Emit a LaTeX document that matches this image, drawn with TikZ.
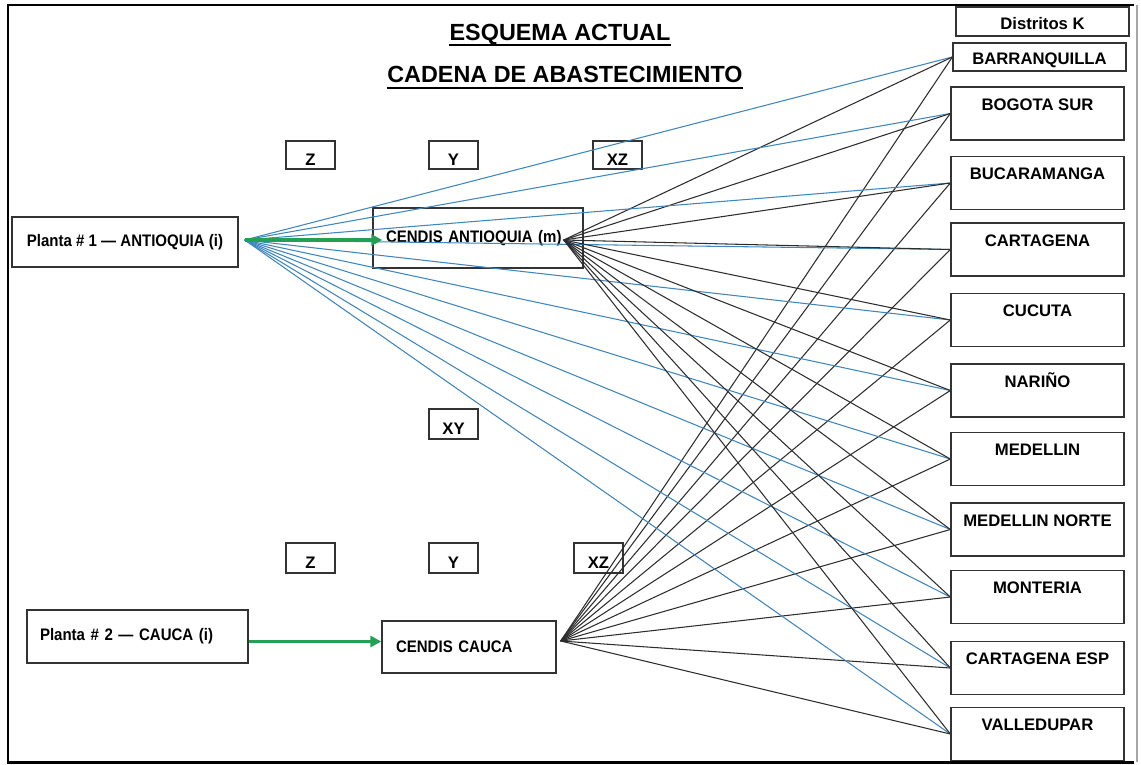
\documentclass[tikz,border=0pt]{standalone}
\usepackage{fontspec}
\setmainfont{Liberation Sans}
\newfontfamily\narrowsf[FakeStretch=0.9]{Liberation Sans}
\usetikzlibrary{positioning,arrows.meta,calc}
\definecolor{flowblue}{RGB}{62,134,190}
\definecolor{flowgreen}{RGB}{34,160,84}
\definecolor{flowgray}{RGB}{45,45,45}

\begin{document}
\begin{tikzpicture}[x=0.02cm,y=-0.02cm,
  box/.style={draw=black!80,line width=0.8pt,font=\narrowsf\bfseries\fontsize{9.5}{11}\selectfont},
  varbox/.style={draw=black!80,line width=0.8pt,minimum width=0.98cm,inner ysep=0pt,
    text height=0.48cm,text depth=0.08cm,font=\bfseries\fontsize{9.5}{11}\selectfont},
  district/.style={draw=black!80,line width=0.8pt,minimum width=3.46cm,inner ysep=0pt,
    text height=0.46cm,text depth=0.6cm,font=\bfseries\fontsize{9.5}{11}\selectfont},
  title/.style={inner sep=0pt,anchor=base,font=\bfseries\fontsize{13.3}{15}\selectfont},
  ship/.style={flowblue,line width=0.6pt},
  cross/.style={flowgray,line width=0.6pt},
  feed/.style={flowgreen,line width=1.8pt,-{Triangle[length=2.2mm,width=2.2mm]}}]
\useasboundingbox (0,0) rectangle (1141,764);
% frame
\draw[line width=1.7pt] (1134,5) -- (8,5) -- (8,762) -- (1134,762);
\draw[black!35,line width=0.6pt] (1137,5) -- (1137,762);
% titles
\node[title] (esquema) at (560,40) {ESQUEMA ACTUAL};
\node[title] (cadena) at (565,82) {CADENA DE ABASTECIMIENTO};
\draw[line width=1.1pt] ($(esquema.base west)+(0,5)$) -- ($(esquema.base east)+(0,5)$);
\draw[line width=1.1pt] ($(cadena.base west)+(0,6)$) -- ($(cadena.base east)+(0,6)$);
% plants and CENDIS
\node[box,minimum width=4.52cm,minimum height=1.0cm] (planta1) at (125,242) {Planta \# 1 — ANTIOQUIA (i)};
\node[box,minimum width=4.42cm,minimum height=1.06cm,inner xsep=0.26cm,text width=3.9cm,align=left] (planta2) at (137.5,636.5) {Planta \# 2 — CAUCA (i)};
\node[box,minimum width=4.2cm,minimum height=1.2cm,inner xsep=0.26cm,text width=3.68cm,align=left] (cendisA) at (478,238) {CENDIS ANTIOQUIA (m)};
\node[box,minimum width=3.48cm,minimum height=1.04cm,inner xsep=0.28cm,text width=2.92cm,align=left] (cendisC) at (469,647) {CENDIS CAUCA};
% variable labels
\node[varbox] (z1) at (310.5,155) {Z};
\node[varbox] (y1) at (453.5,155) {Y};
\node[varbox] (xz1) at (617.5,155) {XZ};
\node[varbox,text height=0.5cm,text depth=0.1cm] (xy) at (453.5,424) {XY};
\node[varbox,text height=0.5cm,text depth=0.1cm] (z2) at (310.5,558) {Z};
\node[varbox,text height=0.5cm,text depth=0.1cm] (y2) at (453.5,558) {Y};
\node[varbox,text height=0.5cm,text depth=0.1cm] (xz2) at (598.5,558) {XZ};
% districts
\node[district,text depth=0.12cm,minimum width=3.46cm] (distritos) at (1042.5,21.5) {Distritos K};
\node[district,text height=0.44cm,text depth=0.12cm] (barranquilla) at (1039.5,57) {BARRANQUILLA};
\foreach \nm/\yy/\txt in {bogota/113.5/BOGOTA SUR,bucaramanga/183/BUCARAMANGA,
    cartagena/249.5/CARTAGENA,cucuta/320/CUCUTA,narino/390.5/NARIÑO,
    medellin/459/MEDELLIN,medellinN/529.5/MEDELLIN NORTE,monteria/597/MONTERIA,
    cartagenaE/668/CARTAGENA ESP,valledupar/734/VALLEDUPAR}
  \node[district] (\nm) at (1037.5,\yy) {\txt};
% hubs where the lines meet
\coordinate (hubP) at ($(planta1.east)+(6,-2)$);
\coordinate (hubA) at ($(cendisA.east)+(-20,2)$);
\coordinate (hubC) at ($(cendisC.east)+(4,-6)$);
\foreach \d in {barranquilla,bogota,bucaramanga,cartagena,cucuta,narino,
    medellin,medellinN,monteria,cartagenaE,valledupar} {
  \draw[ship] (hubP) -- (\d.west);
  \draw[cross] (hubA) -- (\d.west);
  \draw[cross] (hubC) -- (\d.west);
}
% plant to CENDIS
\draw[feed] (hubP) -- ($(cendisA.west)+(10,2)$);
\draw[feed] ($(planta2.east)+(0,5)$) -- ($(planta2.east -| cendisC.west)+(0,5)$);
\end{tikzpicture}
\end{document}
